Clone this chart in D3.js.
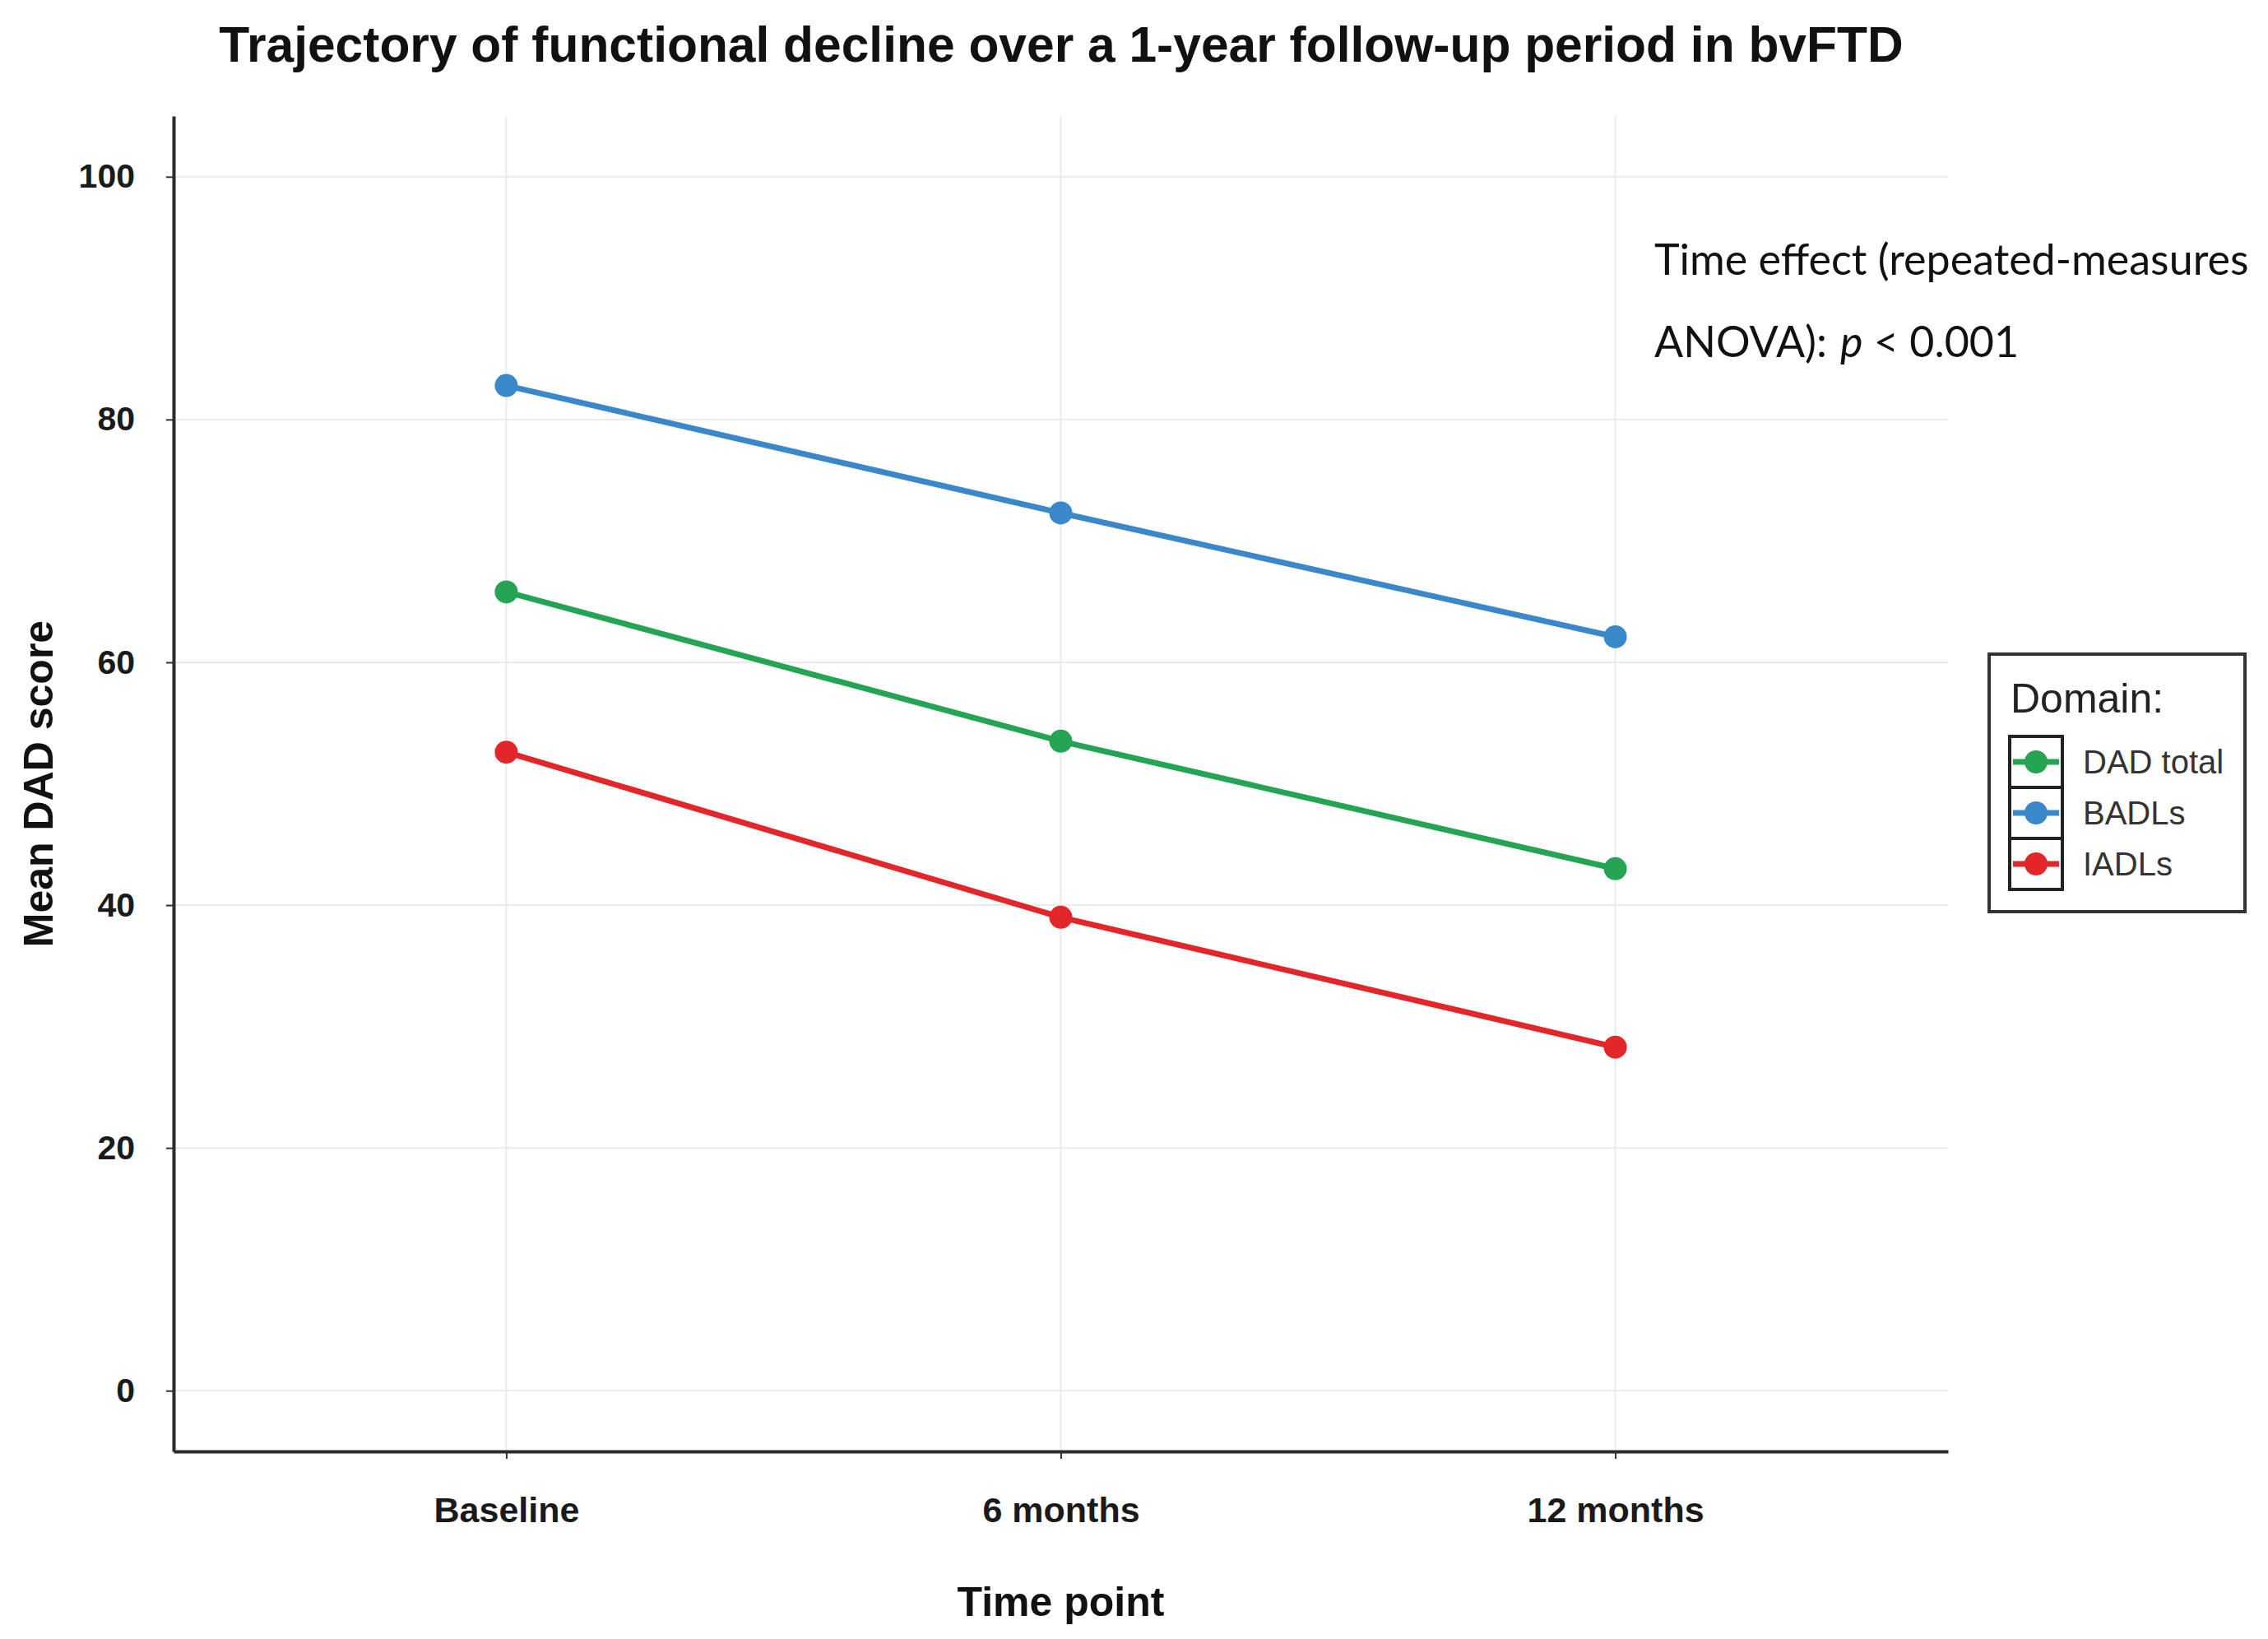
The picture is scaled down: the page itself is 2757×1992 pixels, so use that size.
<!DOCTYPE html>
<html lang="en">
<head>
    <meta charset="UTF-8">
    <title>Functional decline in bvFTD</title>
    <script src="https://d3js.org/d3.v7.min.js"></script>
    <style>
        body { margin: 0; background: #fff; }
        text { font-family: "Liberation Sans", Arial, sans-serif; }
    </style>
</head>
<body>
<svg id="chart"></svg>
<script>
    // Data
    const timePoints = ["Baseline", "6 months", "12 months"];
    const seriesNames = ["DAD total", "BADLs", "IADLs"];
    const dadTotal = [65.8, 53.5, 43.0];
    const badls = [82.8, 72.3, 62.1];
    const iadls = [52.6, 39.0, 28.3];
    const yTicks = [0, 20, 40, 60, 80, 100];

    const seriesColors = ["#25a453", "#3a88c9", "#e2262a"];
    const series = [dadTotal, badls, iadls].map((vals, i) => ({
        name: seriesNames[i],
        color: seriesColors[i],
        values: vals.map((v, j) => ({ t: timePoints[j], v: v }))
    }));

    // Constants
    const W = 2757, H = 1992;
    const margin = { top: 141, right: 389, bottom: 228, left: 211 };
    const width = W - margin.left - margin.right,
        height = H - margin.top - margin.bottom;

    const svg = d3.select("#chart").attr("width", W).attr("height", H);
    const g = svg.append("g")
        .attr("transform", "translate(" + margin.left + "," + margin.top + ")");

    const x = d3.scalePoint().domain(timePoints).range([0, width]).padding(0.6);
    const y = d3.scaleLinear().domain([-5, 105]).range([height, 0]);

    // grid
    g.append("g").selectAll("line").data(yTicks).join("line")
        .attr("x1", 0).attr("x2", width)
        .attr("y1", d => y(d)).attr("y2", d => y(d))
        .attr("stroke", "#ebebeb").attr("stroke-width", 2);
    g.append("g").selectAll("line").data(timePoints).join("line")
        .attr("x1", d => x(d)).attr("x2", d => x(d))
        .attr("y1", 0).attr("y2", height)
        .attr("stroke", "#ebebeb").attr("stroke-width", 2);

    // axes
    const yAxis = g.append("g")
        .call(d3.axisLeft(y).tickValues(yTicks).tickSize(9).tickSizeOuter(0).tickPadding(38));
    const xAxis = g.append("g")
        .attr("transform", "translate(0," + height + ")")
        .call(d3.axisBottom(x).tickSize(9).tickSizeOuter(0).tickPadding(46));

    [yAxis, xAxis].forEach(ax => {
        ax.select(".domain").attr("stroke", "#2a2a2a").attr("stroke-width", 4);
        ax.selectAll(".tick line").attr("stroke", "#333").attr("stroke-width", 2);
        ax.selectAll(".tick text")
            .attr("fill", "#1a1a1a")
            .style("font-weight", "bold");
    });
    yAxis.selectAll(".tick text").style("font-size", "41px");
    xAxis.selectAll(".tick text").style("font-size", "43px");

    // lines and points
    const line = d3.line().x(d => x(d.t)).y(d => y(d.v));
    const sg = g.append("g").selectAll("g").data(series).join("g");
    sg.append("path")
        .attr("d", d => line(d.values))
        .attr("fill", "none")
        .attr("stroke", d => d.color)
        .attr("stroke-width", 7);
    sg.selectAll("circle").data(d => d.values.map(p => ({ ...p, color: d.color }))).join("circle")
        .attr("cx", d => x(d.t)).attr("cy", d => y(d.v))
        .attr("r", 14)
        .attr("fill", d => d.color);

    // titles
    svg.append("text")
        .attr("x", 1290).attr("y", 75)
        .attr("text-anchor", "middle")
        .style("font-size", "60.5px").style("font-weight", "bold")
        .attr("fill", "#111")
        .text("Trajectory of functional decline over a 1-year follow-up period in bvFTD");

    svg.append("text")
        .attr("x", margin.left + width / 2).attr("y", 1964)
        .attr("text-anchor", "middle")
        .style("font-size", "50px").style("font-weight", "bold")
        .attr("fill", "#111")
        .text("Time point");

    svg.append("text")
        .attr("transform", "translate(64," + (margin.top + y(50)) + ") rotate(-90)")
        .attr("text-anchor", "middle")
        .style("font-size", "50px").style("font-weight", "bold")
        .attr("fill", "#111")
        .text("Mean DAD score");

    // annotation
    const note = svg.append("g").attr("transform", "translate(2011,0)");
    note.append("text").attr("y", 334)
        .style("font-family", "Lato, sans-serif").style("font-size", "52px")
        .attr("fill", "#111")
        .text("Time effect (repeated-measures");
    const l2 = note.append("text").attr("y", 434)
        .style("font-family", "Lato, sans-serif").style("font-size", "52px")
        .attr("fill", "#111");
    l2.append("tspan").text("ANOVA):");
    l2.append("tspan").attr("dx", 16).style("font-style", "italic").text("p");
    l2.append("tspan").text(" < 0.001");

    // legend
    const legend = svg.append("g").attr("transform", "translate(2418,795)");
    legend.append("rect")
        .attr("width", 311).attr("height", 313)
        .attr("fill", "#fff").attr("stroke", "#333").attr("stroke-width", 4);
    legend.append("text")
        .attr("x", 26).attr("y", 71)
        .style("font-size", "50px").attr("fill", "#222")
        .text("Domain:");
    const item = legend.selectAll("g.item").data(series).join("g")
        .attr("class", "item")
        .attr("transform", (d, i) => "translate(25," + (100 + i * 62) + ")");
    item.append("rect")
        .attr("width", 64).attr("height", 62)
        .attr("fill", "#fff").attr("stroke", "#222").attr("stroke-width", 4);
    item.append("line")
        .attr("x1", 4).attr("x2", 60).attr("y1", 31).attr("y2", 31)
        .attr("stroke", d => d.color).attr("stroke-width", 7);
    item.append("circle")
        .attr("cx", 32).attr("cy", 31).attr("r", 14)
        .attr("fill", d => d.color);
    item.append("text")
        .attr("x", 89).attr("y", 45)
        .style("font-size", "40px").attr("fill", "#333")
        .text(d => d.name);
</script>
</body>
</html>
